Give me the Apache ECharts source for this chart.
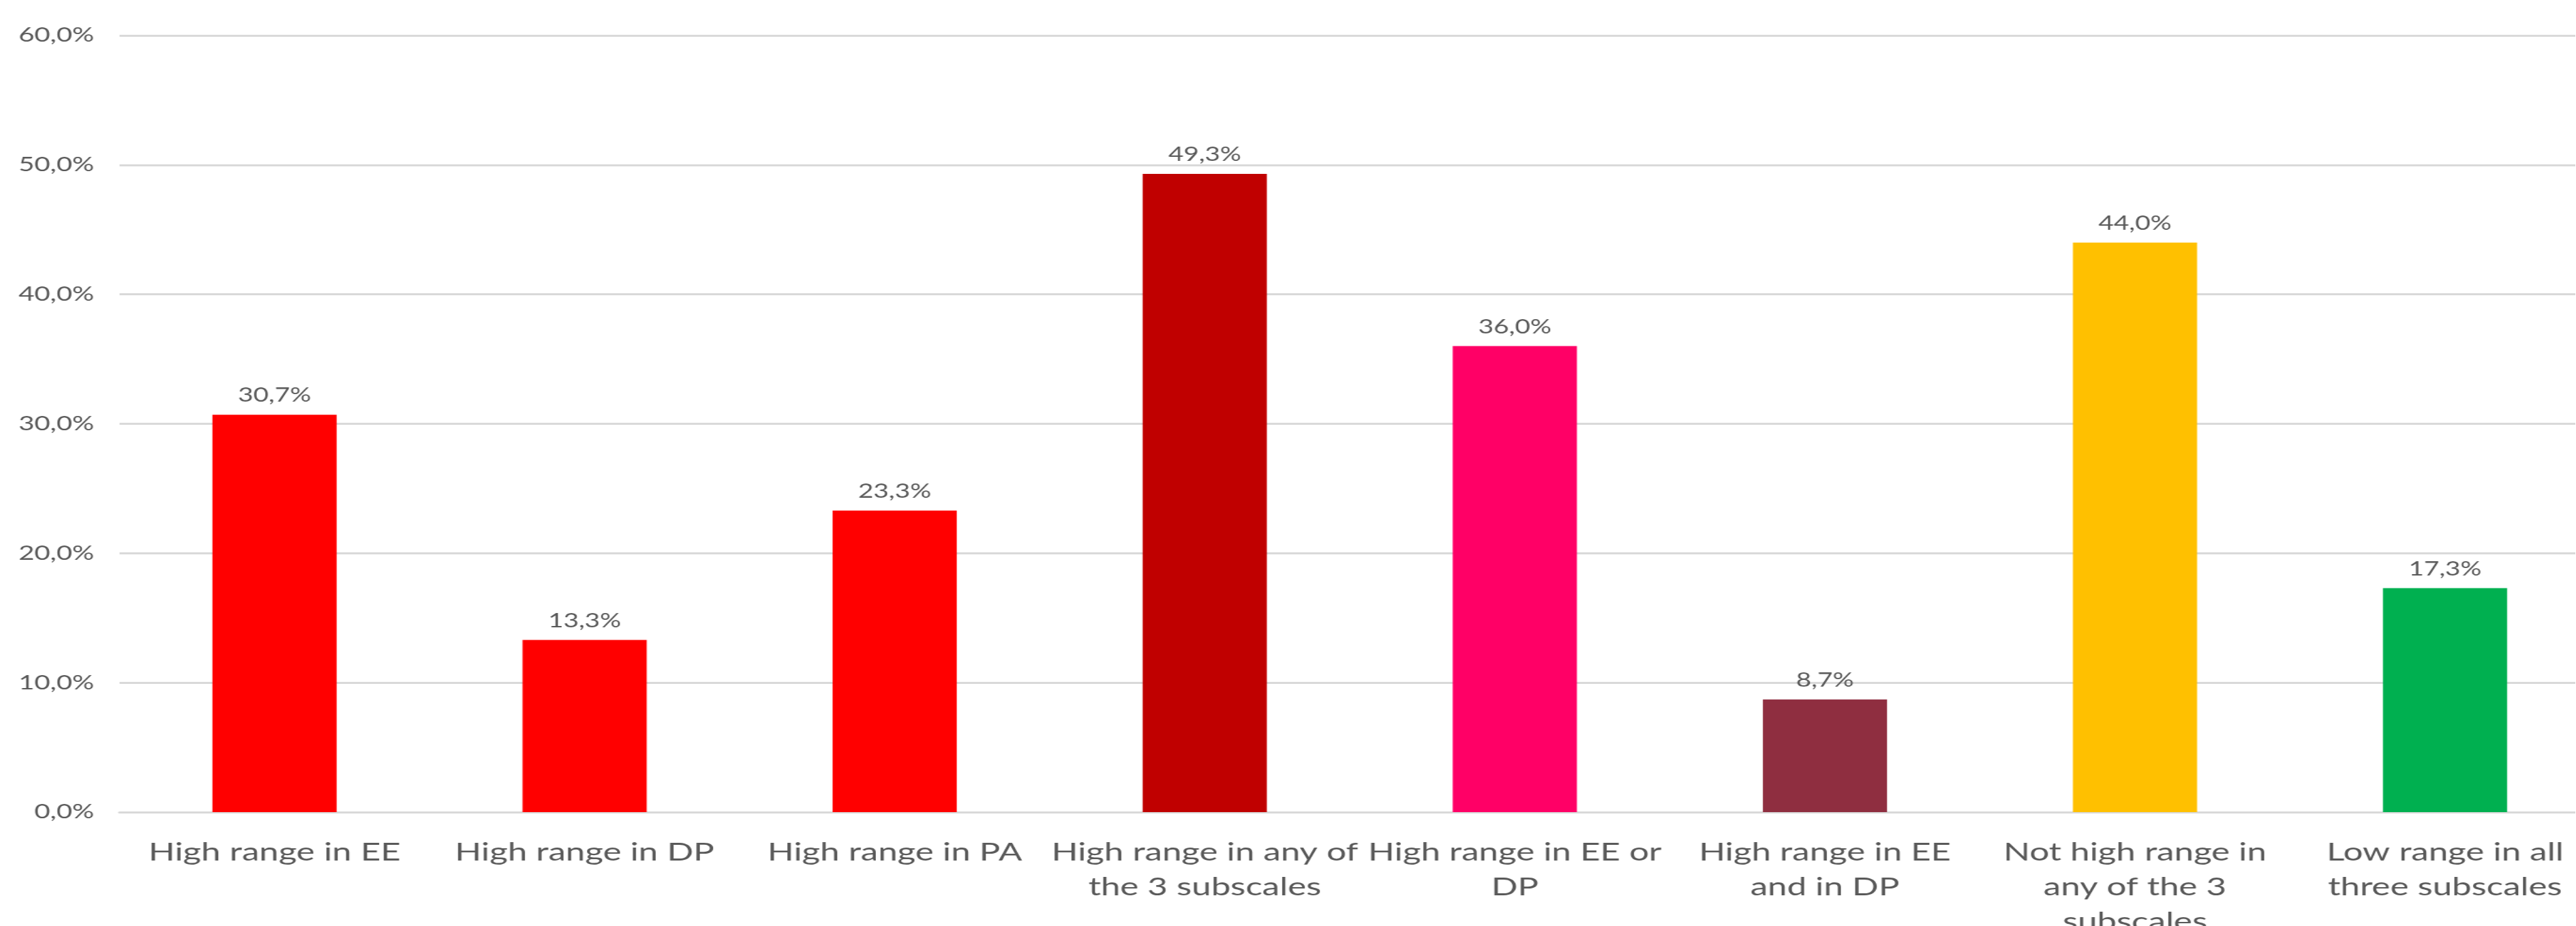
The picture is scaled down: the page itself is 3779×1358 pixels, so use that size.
<!DOCTYPE html>
<html>
<head>
<meta charset="utf-8">
<script src="https://cdn.jsdelivr.net/npm/echarts@6/dist/echarts.min.js"></script>
<style>
  html, body { margin: 0; padding: 0; background: #ffffff; overflow: hidden; width: 3779px; height: 1358px; }
  /* The chart is laid out on a narrower canvas and widened, which gives the
     broad, stretched lettering of this figure. */
  #chart { position: absolute; left: 0; top: 0; width: 2738px; height: 1358px;
           transform: scaleX(1.38); transform-origin: 0 0; }
</style>
</head>
<body>
<div id="chart"></div>
<script>
// Category labels (line breaks as shown under the axis)
const categories = [
  'High range in EE',
  'High range in DP',
  'High range in PA',
  'High range in any of\nthe 3 subscales',
  'High range in EE or\nDP',
  'High range in EE\nand in DP',
  'Not high range in\nany of the 3\nsubscales',
  'Low range in all\nthree subscales'
];

// Share of respondents, in percent
const values = [30.7, 13.3, 23.3, 49.3, 36.0, 8.7, 44.0, 17.3];

// One fill per bar
const barColors = ['#FF0000', '#FF0000', '#FF0000', '#C00000', '#FF0066', '#8F2E40', '#FFC000', '#00B050'];

// Value axis ticks
const yTicks = [0, 10, 20, 30, 40, 50, 60];

const pct = v => Number(v).toFixed(1).replace('.', ',') + '%';

const chart = echarts.init(document.getElementById('chart'), null, { renderer: 'canvas' });

chart.setOption({
  backgroundColor: '#ffffff',
  animation: false,
  grid: {
    left: 127, top: 52, width: 2637, height: 1139,
    containLabel: false,
    // the last label row runs past the bottom edge; keep the plot size fixed
    outerBoundsMode: 'none'
  },
  xAxis: {
    type: 'category',
    data: categories,
    axisLine: { show: true, lineStyle: { color: '#D9D9D9', width: 3 } },
    axisTick: { show: false },
    axisLabel: {
      interval: 0,
      margin: 34,
      color: '#595959',
      fontFamily: 'Lato',
      fontSize: 37,
      lineHeight: 51
    }
  },
  yAxis: {
    type: 'value',
    min: yTicks[0],
    max: yTicks[yTicks.length - 1],
    interval: yTicks[1] - yTicks[0],
    axisLine: { show: false },
    axisTick: { show: false },
    splitLine: { show: true, lineStyle: { color: '#D9D9D9', width: 3 } },
    axisLabel: {
      margin: 27,
      color: '#595959',
      fontFamily: 'Lato',
      fontSize: 29,
      formatter: pct
    }
  },
  series: [{
    type: 'bar',
    barWidth: 132,
    data: values.map((v, i) => ({ value: v, itemStyle: { color: barColors[i] } })),
    label: {
      show: true,
      position: 'top',
      distance: 14,
      color: '#595959',
      fontFamily: 'Lato',
      fontSize: 28,
      formatter: p => pct(p.value)
    }
  }]
});
</script>
</body>
</html>
